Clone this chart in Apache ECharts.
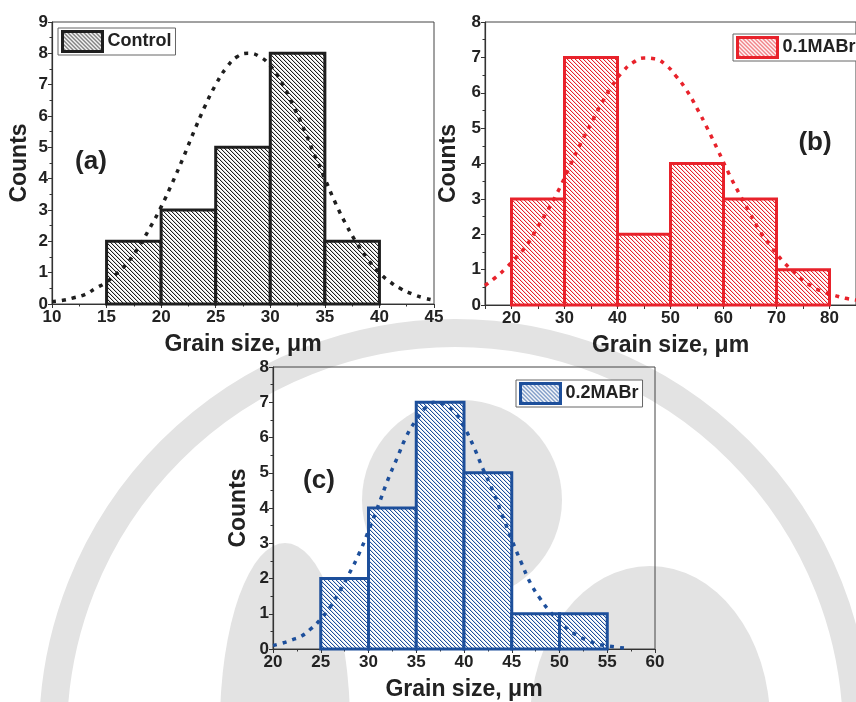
<!DOCTYPE html>
<html>
<head>
<meta charset="utf-8">
<script src="https://cdn.jsdelivr.net/npm/echarts@6/dist/echarts.min.js"></script>
<style>
  html, body { margin: 0; padding: 0; background: #fff; }
  #chart { width: 856px; height: 702px; }
</style>
</head>
<body>
<div id="chart"></div>
<script>
// Grain-size histograms with Gaussian fits for three film compositions.

// (a) Control
const edgesA = [15, 20, 25, 30, 35, 40];
const countsA = [2, 3, 5, 8, 2];
const fitXA = [10, 11, 12, 13, 14, 15, 16, 17, 18, 19, 20, 21, 22, 23, 24, 25, 26, 27,
  28, 29, 30, 31, 32, 33, 34, 35, 36, 37, 38, 39, 40, 41, 42, 43, 44, 45];
const fitYA = [0.08, 0.12, 0.2, 0.3, 0.5, 0.7, 1.0, 1.35, 1.85, 2.45, 3.1, 3.85, 4.65, 5.5,
  6.3, 7.0, 7.55, 7.9, 8.0, 7.9, 7.6, 7.1, 6.4, 5.65, 4.8, 4.0, 3.2, 2.5, 1.9, 1.4, 1.0,
  0.7, 0.48, 0.32, 0.2, 0.12];
const xTicksA = [10, 15, 20, 25, 30, 35, 40, 45];
const yTicksA = [0, 1, 2, 3, 4, 5, 6, 7, 8, 9];

// (b) 0.1MABr
const edgesB = [20, 30, 40, 50, 60, 70, 80];
const countsB = [3, 7, 2, 4, 3, 1];
const fitXB = [15, 17, 19, 21, 23, 25, 27, 29, 31, 33, 35, 37, 39, 41, 43, 45, 47, 49, 51,
  53, 55, 57, 59, 61, 63, 65, 67, 69, 71, 73, 75, 77, 79, 81, 83, 85];
const fitYB = [0.55, 0.78, 1.05, 1.36, 1.72, 2.22, 2.72, 3.28, 3.92, 4.55, 5.13, 5.7, 6.2,
  6.6, 6.86, 6.98, 6.96, 6.8, 6.48, 6.08, 5.56, 4.98, 4.36, 3.72, 3.14, 2.6, 2.06, 1.64,
  1.27, 0.97, 0.7, 0.5, 0.36, 0.27, 0.19, 0.14];
const xTicksB = [20, 30, 40, 50, 60, 70, 80];
const yTicksB = [0, 1, 2, 3, 4, 5, 6, 7, 8];

// (c) 0.2MABr
const edgesC = [25, 30, 35, 40, 45, 50, 55];
const countsC = [2, 4, 7, 5, 1, 1];
const fitXC = [20, 21, 22, 23, 24, 25, 26, 27, 28, 29, 30, 31, 32, 33, 34, 35, 36, 37, 38,
  39, 40, 41, 42, 43, 44, 45, 46, 47, 48, 49, 50, 51, 52, 53, 54, 55, 56, 57];
const fitYC = [0.1, 0.17, 0.26, 0.37, 0.58, 0.85, 1.2, 1.65, 2.15, 2.7, 3.35, 4.05, 4.78,
  5.42, 6.05, 6.5, 6.85, 7.0, 6.92, 6.72, 6.3, 5.75, 5.1, 4.5, 3.8, 3.1, 2.45, 1.85, 1.42,
  1.06, 0.78, 0.54, 0.36, 0.24, 0.14, 0.09, 0.05, 0.02];
const xTicksC = [20, 25, 30, 35, 40, 45, 50, 55, 60];
const yTicksC = [0, 1, 2, 3, 4, 5, 6, 7, 8];

const FONT = '"Liberation Sans", Arial, Helvetica, sans-serif';
const INK = '#222';

// Diagonal "\\\\" hatch tile used as a repeating fill.
function hatch(color) {
  const c = document.createElement('canvas');
  c.width = 4; c.height = 4;
  const g = c.getContext('2d');
  g.fillStyle = '#fff';
  g.fillRect(0, 0, 4, 4);
  g.fillStyle = color;
  for (let i = 0; i < 4; i++) g.fillRect(i, i, 1, 1);
  g.globalAlpha = 0.2;
  for (let i = 0; i < 4; i++) g.fillRect((i + 1) % 4, i, 1, 1);
  return { image: c, repeat: 'repeat' };
}

function binData(edges, counts) {
  return counts.map((n, i) => [edges[i], edges[i + 1], n]);
}

function histSeries(name, idx, edges, counts, color) {
  const fill = hatch(color);
  return {
    name: name,
    type: 'custom',
    xAxisIndex: idx,
    yAxisIndex: idx,
    z: 3,
    itemStyle: { color: fill, borderColor: color, borderWidth: 3 },
    encode: { x: [0, 1], y: 2 },
    data: binData(edges, counts),
    renderItem: function (params, api) {
      const p0 = api.coord([api.value(0), 0]);
      const p1 = api.coord([api.value(1), api.value(2)]);
      return {
        type: 'rect',
        shape: { x: p0[0], y: p1[1], width: p1[0] - p0[0], height: p0[1] - p1[1] },
        style: { fill: fill, stroke: color, lineWidth: 3 }
      };
    }
  };
}

function fitSeries(idx, xs, ys, color) {
  return {
    name: 'fit' + idx,
    type: 'line',
    xAxisIndex: idx,
    yAxisIndex: idx,
    z: 5,
    smooth: true,
    showSymbol: false,
    silent: true,
    data: xs.map((x, i) => [x, ys[i]]),
    lineStyle: { color: color, width: 3.5, type: [4, 6], cap: 'butt' }
  };
}

function xAxisCfg(idx, min, max, interval, labelValues) {
  const cfg = {
    type: 'value',
    gridIndex: idx,
    min: min,
    max: max,
    interval: interval,
    name: 'Grain size, \u03bcm',
    nameLocation: 'middle',
    nameGap: 29,
    nameTextStyle: { fontFamily: FONT, fontWeight: 'bold', fontSize: 23, color: INK },
    axisLine: { show: true, onZero: false, lineStyle: { color: '#333', width: 1.2 } },
    axisTick: { show: true, inside: false, length: 4, lineStyle: { color: '#333' } },
    minorTick: { show: true, splitNumber: 2, length: 2.5, lineStyle: { color: '#333' } },
    splitLine: { show: false },
    minorSplitLine: { show: false },
    axisLabel: {
      fontFamily: FONT, fontWeight: 'bold', fontSize: 17, color: INK, margin: 5,
      showMinLabel: true, showMaxLabel: true
    }
  };
  if (labelValues) {
    cfg.axisLabel.customValues = labelValues;
    cfg.minorTick.show = false;
  }
  return cfg;
}

function yAxisCfg(idx, ticks, gap) {
  return {
    type: 'value',
    gridIndex: idx,
    min: ticks[0],
    max: ticks[ticks.length - 1],
    interval: 1,
    name: 'Counts',
    nameLocation: 'middle',
    nameRotate: 90,
    nameGap: gap,
    nameTextStyle: { fontFamily: FONT, fontWeight: 'bold', fontSize: 23, color: INK },
    axisLine: { show: true, lineStyle: { color: '#333', width: 1.2 } },
    axisTick: { show: true, inside: false, length: 4, lineStyle: { color: '#333' } },
    minorTick: { show: true, splitNumber: 2, length: 2.5, lineStyle: { color: '#333' } },
    splitLine: { show: false },
    minorSplitLine: { show: false },
    axisLabel: { fontFamily: FONT, fontWeight: 'bold', fontSize: 17, color: INK, margin: 4 }
  };
}

function legendCfg(name, color, left, top) {
  return {
    data: [{ name: name, icon: 'rect',
      itemStyle: { color: hatch(color), borderColor: color, borderWidth: 3 } }],
    left: left,
    top: top,
    orient: 'vertical',
    itemWidth: 40,
    itemHeight: 20,
    padding: [2, 4, 2, 3],
    backgroundColor: '#fff',
    borderColor: '#666',
    borderWidth: 1,
    selectedMode: false,
    textStyle: { fontFamily: FONT, fontWeight: 'bold', fontSize: 18, color: INK }
  };
}

function panelLabel(text, x, y) {
  return {
    type: 'text',
    x: x, y: y,
    z: 10,
    style: {
      text: text, fill: INK, font: 'bold 26px ' + FONT,
      align: 'center', verticalAlign: 'middle'
    }
  };
}

const RED = '#e8222b';
const BLUE = '#1d4f9b';
const BLACK = '#1e1e1e';
const MARK = '#e3e3e3';

// soft emblem shapes drawn behind the plots
function blob(cx, cy, r, sx, sy) {
  return { type: 'circle', z: -5, silent: true, x: cx, y: cy, scaleX: sx, scaleY: sy,
    shape: { cx: 0, cy: 0, r: r }, style: { fill: MARK } };
}

const chart = echarts.init(document.getElementById('chart'), null, { renderer: 'canvas' });

chart.setOption({
  backgroundColor: '#fff',
  animation: false,
  grid: [
    { left: 52, top: 22, right: 422, bottom: 398, show: true, borderColor: '#444', borderWidth: 1 },
    { left: 485, top: 22, right: -11, bottom: 397, show: true, borderColor: '#444', borderWidth: 1 },
    { left: 273, top: 367, right: 201, bottom: 51, show: true, borderColor: '#444', borderWidth: 1 }
  ],
  xAxis: [
    xAxisCfg(0, xTicksA[0], xTicksA[xTicksA.length - 1], 5),
    xAxisCfg(1, 15, 85, 5, xTicksB),
    xAxisCfg(2, xTicksC[0], xTicksC[xTicksC.length - 1], 5)
  ],
  yAxis: [yAxisCfg(0, yTicksA, 21), yAxisCfg(1, yTicksB, 25), yAxisCfg(2, yTicksC, 23)],
  legend: [
    legendCfg('Control', BLACK, 58, 28),
    legendCfg('0.1MABr', RED, 733, 34),
    legendCfg('0.2MABr', BLUE, 516, 380)
  ],
  graphic: [
    { type: 'circle', z: -5, silent: true, shape: { cx: 455, cy: 735, r: 402 },
      style: { fill: 'none', stroke: MARK, lineWidth: 28 } },
    blob(462, 500, 100, 1, 1),
    blob(285, 725, 65, 1, 2.8),
    blob(650, 722, 120, 1, 1.3),
    panelLabel('(a)', 91, 162),
    panelLabel('(b)', 815, 143),
    panelLabel('(c)', 319, 481)
  ],
  series: [
    histSeries('Control', 0, edgesA, countsA, BLACK),
    fitSeries(0, fitXA, fitYA, BLACK),
    histSeries('0.1MABr', 1, edgesB, countsB, RED),
    fitSeries(1, fitXB, fitYB, RED),
    histSeries('0.2MABr', 2, edgesC, countsC, BLUE),
    fitSeries(2, fitXC, fitYC, BLUE)
  ]
});
</script>
</body>
</html>
